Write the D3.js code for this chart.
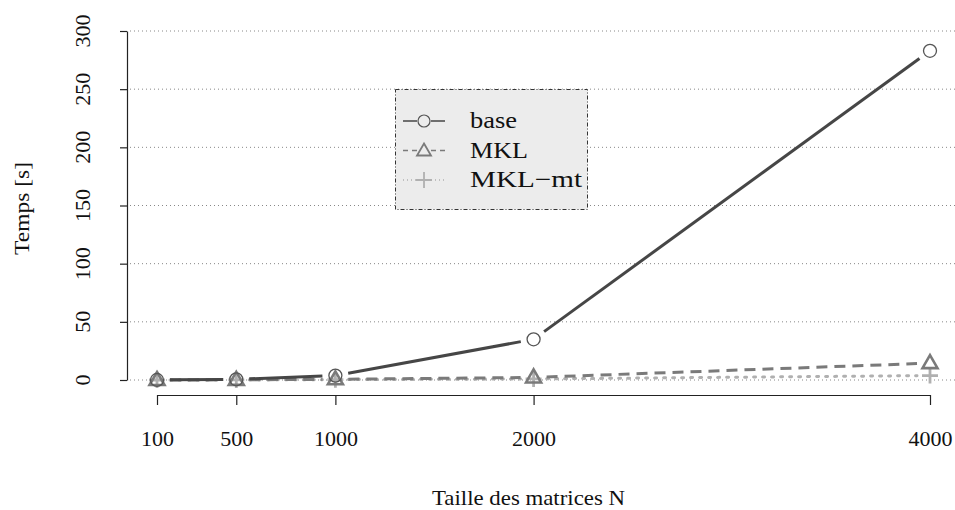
<!DOCTYPE html>
<html><head><meta charset="utf-8">
<script src="https://cdn.jsdelivr.net/npm/d3@7"></script>
<style>body{margin:0;background:#fff}svg{display:block}</style>
</head><body>
<svg id="c" width="955" height="510"></svg>
<script>
const sizes = [100, 500, 1000, 2000, 4000];
const baseTimes = [0.05, 0.6, 3.8, 35, 283];
const mklTimes = [0.02, 0.15, 0.6, 2.2, 14.5];
const mktTimes = [0.01, 0.08, 0.3, 0.9, 3.8];
const yTicks = [0, 50, 100, 150, 200, 250, 300];
const seriesNames = ["base", "MKL", "MKL\u2212mt"];

const svg = d3.select("#c");
const font = "'Liberation Serif', 'DejaVu Serif', serif";
const x = d3.scaleLinear().domain([100, 4000]).range([157, 930]);
const y = d3.scaleLinear().domain([0, 300]).range([380, 31]);

// grid
svg.append("g").selectAll("line").data(yTicks).join("line")
  .attr("x1", 130).attr("x2", 955).attr("y1", d => y(d)).attr("y2", d => y(d))
  .attr("stroke", "#888").attr("stroke-width", 1).attr("stroke-dasharray", "1,3");

// y axis
const ya = svg.append("g").attr("transform", "translate(127,0)")
  .call(d3.axisLeft(y).tickValues(yTicks).tickSize(7).tickSizeOuter(0));
ya.select(".domain").attr("stroke", "#222").attr("stroke-width", 1.2);
ya.selectAll(".tick line").attr("stroke", "#222").attr("stroke-width", 1.2);
ya.selectAll(".tick text").remove();
svg.append("g").selectAll("text").data(yTicks).join("text")
  .attr("transform", d => `translate(90,${y(d)}) rotate(-90)`)
  .attr("text-anchor", "middle").attr("font-family", font).attr("font-size", 22).attr("fill", "#111")
  .text(d => d);

// x axis
const xa = svg.append("g").attr("transform", "translate(0,395)")
  .call(d3.axisBottom(x).tickValues(sizes).tickSize(10).tickSizeOuter(0).tickFormat(d3.format("d")));
xa.select(".domain").attr("stroke", "#222").attr("stroke-width", 1.2);
xa.selectAll(".tick line").attr("stroke", "#222").attr("stroke-width", 1.2);
xa.selectAll(".tick text").attr("font-family", font).attr("font-size", 22).attr("fill", "#111")
  .attr("y", 51).attr("dy", null);

svg.append("text").attr("x", 528.5).attr("y", 505).attr("text-anchor", "middle")
  .attr("font-family", font).attr("font-size", 22).attr("fill", "#111")
  .attr("textLength", 193).attr("lengthAdjust", "spacingAndGlyphs").text("Taille des matrices N");
svg.append("text").attr("transform", "translate(29,208.5) rotate(-90)").attr("text-anchor", "middle")
  .attr("font-family", font).attr("font-size", 22).attr("fill", "#111")
  .attr("textLength", 93).attr("lengthAdjust", "spacingAndGlyphs").text("Temps [s]");

const series = [
  {name: seriesNames[0], vals: baseTimes, color: "#464646", dash: null, sym: "circle", tl: 47},
  {name: seriesNames[1], vals: mklTimes, color: "#7a7a7a", dash: "11,7", sym: "tri", tl: 58},
  {name: seriesNames[2], vals: mktTimes, color: "#b0b0b0", dash: "2,7", sym: "plus", tl: 112}
];
const GAP = 13;
function drawSym(g, sym, cx, cy, color) {
  if (sym === "circle") {
    g.append("circle").attr("cx", cx).attr("cy", cy).attr("r", 6.5)
      .attr("fill", "none").attr("stroke", "#555").attr("stroke-width", 1.3);
  } else if (sym === "tri") {
    g.append("path").attr("d", `M${cx},${cy-8}L${cx+7.5},${cy+5}L${cx-7.5},${cy+5}Z`)
      .attr("fill", "none").attr("stroke", color).attr("stroke-width", 2.6);
  } else {
    g.append("path").attr("d", `M${cx-8},${cy}H${cx+8}M${cx},${cy-8}V${cy+8}`)
      .attr("fill", "none").attr("stroke", color).attr("stroke-width", 2.8);
  }
}
series.slice().reverse().forEach(s => {
  const g = svg.append("g");
  const pts = sizes.map((n, i) => [x(n), y(s.vals[i])]);
  for (let i = 0; i < pts.length - 1; i++) {
    const [x0, y0] = pts[i], [x1, y1] = pts[i+1];
    const L = Math.hypot(x1 - x0, y1 - y0);
    if (L <= 2 * GAP) continue;
    const ux = (x1 - x0) / L, uy = (y1 - y0) / L;
    g.append("line").attr("x1", x0 + ux*GAP).attr("y1", y0 + uy*GAP)
      .attr("x2", x1 - ux*GAP).attr("y2", y1 - uy*GAP)
      .attr("stroke", s.color).attr("stroke-width", 3)
      .attr("stroke-dasharray", s.dash).attr("stroke-linecap", s.dash === "2,7" ? "round" : "butt");
  }
  pts.forEach(p => drawSym(g, s.sym, p[0], p[1], s.color));
});

// legend
const lg = svg.append("g");
lg.append("rect").attr("x", 395.5).attr("y", 89.5).attr("width", 192).attr("height", 120)
  .attr("fill", "#ececec").attr("stroke", "#333").attr("stroke-width", 1)
  .attr("stroke-dasharray", "4,2,1,2");
series.forEach((s, i) => {
  const cy = 121 + i * 29.5;
  const da = s.dash ? (s.dash === "2,7" ? "1,3" : "5,4") : null;
  lg.append("line").attr("x1", 403).attr("x2", 417).attr("y1", cy).attr("y2", cy)
    .attr("stroke", s.color).attr("stroke-width", 1.5).attr("stroke-dasharray", da);
  lg.append("line").attr("x1", 431).attr("x2", 445).attr("y1", cy).attr("y2", cy)
    .attr("stroke", s.color).attr("stroke-width", 1.5).attr("stroke-dasharray", da);
  const sg = lg.append("g");
  if (s.sym === "circle") sg.append("circle").attr("cx", 424).attr("cy", cy).attr("r", 6)
      .attr("fill", "none").attr("stroke", "#555").attr("stroke-width", 1.2);
  else if (s.sym === "tri") sg.append("path").attr("d", `M424,${cy-7}L431,${cy+5}L417,${cy+5}Z`)
      .attr("fill", "none").attr("stroke", s.color).attr("stroke-width", 1.8);
  else sg.append("path").attr("d", `M416,${cy}H432M424,${cy-8}V${cy+8}`)
      .attr("fill", "none").attr("stroke", s.color).attr("stroke-width", 1.8);
  lg.append("text").attr("x", 470).attr("y", cy + 7)
    .attr("font-family", font).attr("font-size", 23).attr("fill", "#111")
    .attr("textLength", s.tl).attr("lengthAdjust", "spacingAndGlyphs").text(s.name);
});
</script>
</body></html>
